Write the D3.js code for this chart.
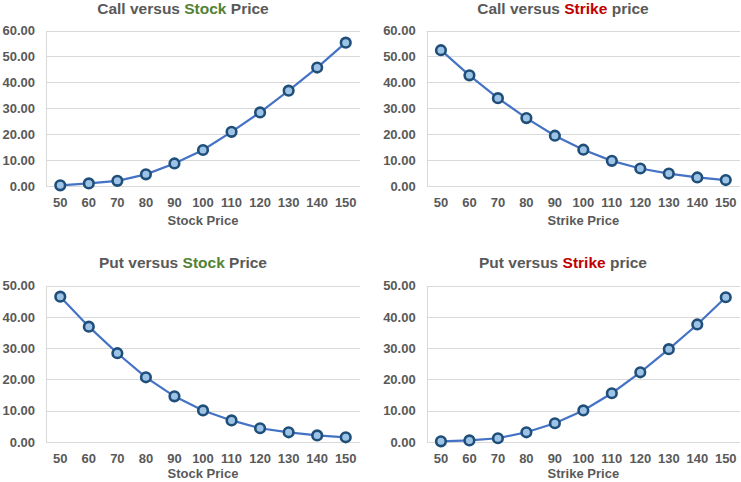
<!DOCTYPE html>
<html>
<head>
<meta charset="utf-8">
<script src="https://cdn.jsdelivr.net/npm/d3@7/dist/d3.min.js"></script>
<style>
  html, body { margin: 0; padding: 0; background: #fff; }
  svg { display: block; font-family: "Liberation Sans", Arial, sans-serif; }
</style>
</head>
<body>
<svg id="chart" width="741" height="482"></svg>
<script>
// ---- Data ----
const prices = [50, 60, 70, 80, 90, 100, 110, 120, 130, 140, 150];
const callVsStock  = [0.25, 1.0, 2.0, 4.5, 8.7, 13.9, 20.9, 28.4, 36.8, 45.7, 55.3];
const callVsStrike = [52.4, 42.7, 33.9, 26.2, 19.4, 14.0, 9.7, 6.75, 4.8, 3.3, 2.3];
const putVsStock   = [46.5, 36.9, 28.4, 20.7, 14.6, 10.1, 6.9, 4.4, 3.1, 2.1, 1.5];
const putVsStrike  = [0.2, 0.5, 1.2, 3.1, 6.0, 10.1, 15.6, 22.3, 29.7, 37.6, 46.3];
const callTicks = [0, 10, 20, 30, 40, 50, 60];
const putTicks  = [0, 10, 20, 30, 40, 50];
const titles = [
  ["Call versus ", "Stock", " Price"],
  ["Call versus ", "Strike", " price"],
  ["Put versus ", "Stock", " Price"],
  ["Put versus ", "Strike", " price"]
];
const xTitles = ["Stock Price", "Strike Price", "Stock Price", "Strike Price"];

// ---- Layout / style ----
const textColor = "#595959";
const gridColor = "#d9d9d9";
const lineColor = "#4472c4";
const markerFill = "#9dc3e6";
const markerStroke = "#1f4e79";
const green = "#548235";
const red = "#c00000";

const panels = [
  { values: callVsStock,  ticks: callTicks, max: 60, x0: 46,    x1: 360, yTop: 30.5,  yBot: 186, titleX: 183, titleY: 13.5,  axTitleY: 225, hl: green },
  { values: callVsStrike, ticks: callTicks, max: 60, x0: 426.7, x1: 740, yTop: 30.5,  yBot: 186, titleX: 563, titleY: 13.5,  axTitleY: 225, hl: red },
  { values: putVsStock,   ticks: putTicks,  max: 50, x0: 46,    x1: 360, yTop: 285.7, yBot: 442, titleX: 183, titleY: 267.5, axTitleY: 478, hl: green },
  { values: putVsStrike,  ticks: putTicks,  max: 50, x0: 426.7, x1: 740, yTop: 285.7, yBot: 442, titleX: 563, titleY: 267.5, axTitleY: 478, hl: red }
];

const svg = d3.select("#chart");

panels.forEach((p, i) => {
  const g = svg.append("g");
  const x = d3.scalePoint().domain(prices).range([p.x0, p.x1]).padding(0.5);
  const y = d3.scaleLinear().domain([0, p.max]).range([p.yBot, p.yTop]);

  // gridlines
  g.append("g").selectAll("line").data(p.ticks).join("line")
    .attr("x1", p.x0).attr("x2", p.x1)
    .attr("y1", d => Math.round(y(d)) + 0.5).attr("y2", d => Math.round(y(d)) + 0.5)
    .attr("stroke", gridColor).attr("stroke-width", 1);

  // left axis line
  g.append("line")
    .attr("x1", Math.round(p.x0) + 0.5).attr("x2", Math.round(p.x0) + 0.5)
    .attr("y1", Math.round(y(p.max)) + 0.5).attr("y2", Math.round(y(0)) + 0.5)
    .attr("stroke", gridColor).attr("stroke-width", 1);

  // y tick labels
  g.append("g").selectAll("text").data(p.ticks).join("text")
    .attr("x", p.x0 - 11)
    .attr("y", d => y(d))
    .attr("dy", "0.36em")
    .attr("text-anchor", "end")
    .attr("fill", textColor)
    .attr("font-size", 13).attr("font-weight", "bold")
    .text(d => d3.format(".2f")(d));

  // x tick labels
  g.append("g").selectAll("text").data(prices).join("text")
    .attr("x", d => x(d))
    .attr("y", p.yBot + 21)
    .attr("text-anchor", "middle")
    .attr("fill", textColor)
    .attr("font-size", 13).attr("font-weight", "bold")
    .text(d => d);

  // x axis title
  g.append("text")
    .attr("x", (p.x0 + p.x1) / 2)
    .attr("y", p.axTitleY)
    .attr("text-anchor", "middle")
    .attr("fill", textColor)
    .attr("font-size", 13).attr("font-weight", "bold")
    .text(xTitles[i]);

  // title
  const t = g.append("text")
    .attr("x", p.titleX).attr("y", p.titleY)
    .attr("text-anchor", "middle")
    .attr("font-size", 15.5).attr("font-weight", "bold")
    .attr("fill", textColor);
  t.append("tspan").text(titles[i][0]);
  t.append("tspan").attr("fill", p.hl).text(titles[i][1]);
  t.append("tspan").text(titles[i][2]);

  // line
  const data = prices.map((k, j) => [k, p.values[j]]);
  g.append("path")
    .datum(data)
    .attr("fill", "none")
    .attr("stroke", lineColor)
    .attr("stroke-width", 2.2)
    .attr("d", d3.line().x(d => x(d[0])).y(d => y(d[1])));

  // markers
  g.append("g").selectAll("circle").data(data).join("circle")
    .attr("cx", d => x(d[0])).attr("cy", d => y(d[1]))
    .attr("r", 4.8)
    .attr("fill", markerFill)
    .attr("stroke", markerStroke)
    .attr("stroke-width", 2.6);
});
</script>
</body>
</html>
